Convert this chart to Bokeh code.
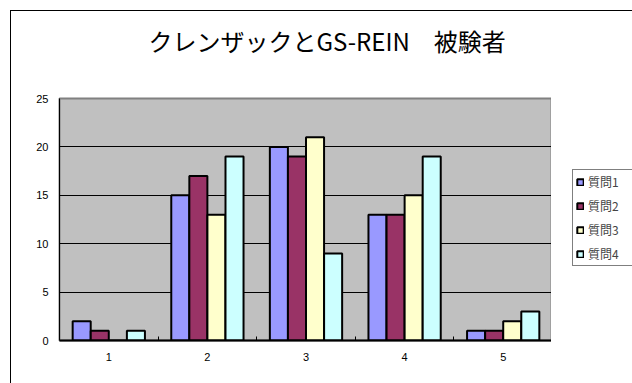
from bokeh.plotting import figure
from bokeh.layouts import row
from bokeh.models import ColumnDataSource, FixedTicker, Legend, LegendItem, Range1d, Title
from bokeh.transform import dodge
from bokeh.embed import file_html
from bokeh.resources import INLINE

categories = [1, 2, 3, 4, 5]
tick_labels = {1: "1", 2: "2", 3: "3", 4: "4", 5: "5"}
series_names = ["質問1", "質問2", "質問3", "質問4"]
q1 = [2, 15, 20, 13, 1]
q2 = [1, 17, 19, 13, 1]
q3 = [0, 13, 21, 15, 2]
q4 = [1, 19, 9, 19, 3]
colors = ["#9999FF", "#993366", "#FFFFCC", "#CCFFFF"]
title_text = "クレンザックとGS-REIN\u3000被験者"

source = ColumnDataSource(dict(x=categories, q1=q1, q2=q2, q3=q3, q4=q4))

p = figure(width=541, height=373, output_backend="svg", toolbar_location=None,
           x_range=Range1d(0.5, 5.5), y_range=Range1d(0, 25),
           min_border_left=48, min_border_right=0, min_border_top=87, min_border_bottom=44)
p.margin = (10, 0, 0, 10)
p.styles = {"border-left": "1px solid black", "border-top": "1px solid black"}

p.background_fill_color = "#C0C0C0"
p.border_fill_color = "white"
p.outline_line_color = "#808080"
p.outline_line_width = 2

w = 0.183
offsets = [-0.275, -0.0917, 0.0917, 0.275]
for key, off, col in zip(["q1", "q2", "q3", "q4"], offsets, colors):
    p.vbar(x=dodge("x", off), top=key, width=w, source=source,
           fill_color=col, line_color="black", line_width=2)

# white spacer title next to the frame, real title added after it (outer)
p.title.text = ""
spacer = Title(text="|", text_font_size="10px", standoff=27, text_color="white")
p.add_layout(spacer, "above")
main_title = Title(text=title_text, align="left", offset=89, standoff=0,
                   vertical_align="middle",
                   text_font="Noto Sans CJK JP", text_font_size="24px",
                   text_font_style="normal", text_color="black")
p.add_layout(main_title, "above")

# axes
p.xaxis.ticker = FixedTicker(ticks=categories, minor_ticks=[1.5, 2.5, 3.5, 4.5])
p.xaxis.major_label_overrides = tick_labels
p.xaxis.major_tick_line_color = None
p.xaxis.major_tick_out = 0
p.xaxis.major_tick_in = 0
p.xaxis.minor_tick_in = 4
p.xaxis.minor_tick_out = 0
p.xaxis.minor_tick_line_color = "black"
p.xaxis.axis_line_color = "black"
p.xaxis.axis_line_width = 2
p.xaxis.major_label_standoff = 12

p.yaxis.ticker = FixedTicker(ticks=[0, 5, 10, 15, 20, 25])
p.yaxis.major_tick_line_color = None
p.yaxis.major_tick_out = 0
p.yaxis.major_tick_in = 0
p.yaxis.minor_tick_line_color = None
p.yaxis.axis_line_color = "black"
p.yaxis.axis_line_width = 1
p.yaxis.major_label_standoff = 11

for ax in (p.xaxis, p.yaxis):
    ax.major_label_text_font = "Liberation Sans"
    ax.major_label_text_font_size = "11px"
    ax.major_label_text_color = "black"

p.xgrid.grid_line_color = None
p.ygrid.ticker = FixedTicker(ticks=[5, 10, 15, 20])
p.ygrid.grid_line_color = "black"
p.ygrid.grid_line_width = 1

# legend panel on the right (its renderers are hidden; only the legend shows)
p2 = figure(width=81, height=373, output_backend="svg", toolbar_location=None,
            x_range=Range1d(0.5, 5.5), y_range=Range1d(0, 25),
            x_axis_location=None, y_axis_location=None,
            min_border_left=0, min_border_right=0, min_border_top=0, min_border_bottom=0)
p2.margin = (10, 0, 0, 0)
p2.styles = {"border-top": "1px solid black"}
p2.outline_line_color = None
p2.background_fill_color = "white"
p2.border_fill_color = "white"
p2.xgrid.visible = False
p2.ygrid.visible = False

legend_renderers = []
for key, off, col in zip(["q1", "q2", "q3", "q4"], offsets, colors):
    r = p2.vbar(x=dodge("x", off), top=key, width=w, source=source,
                fill_color=col, line_color="black", line_width=2)
    r.visible = False
    legend_renderers.append(r)

legend = Legend(items=[LegendItem(label=n, renderers=[r]) for n, r in zip(series_names, legend_renderers)],
                location=(21, 74), orientation="vertical",
                border_line_color="black", border_line_width=1,
                background_fill_color="white", background_fill_alpha=1,
                glyph_width=8, glyph_height=8, label_height=12, spacing=7,
                padding=3, margin=0, label_standoff=4, label_width=45,
                label_text_font="Noto Sans CJK JP", label_text_font_size="12px")
p2.add_layout(legend, "center")

layout = row(p, p2)
open("out.html", "w").write(file_html(layout, INLINE))
